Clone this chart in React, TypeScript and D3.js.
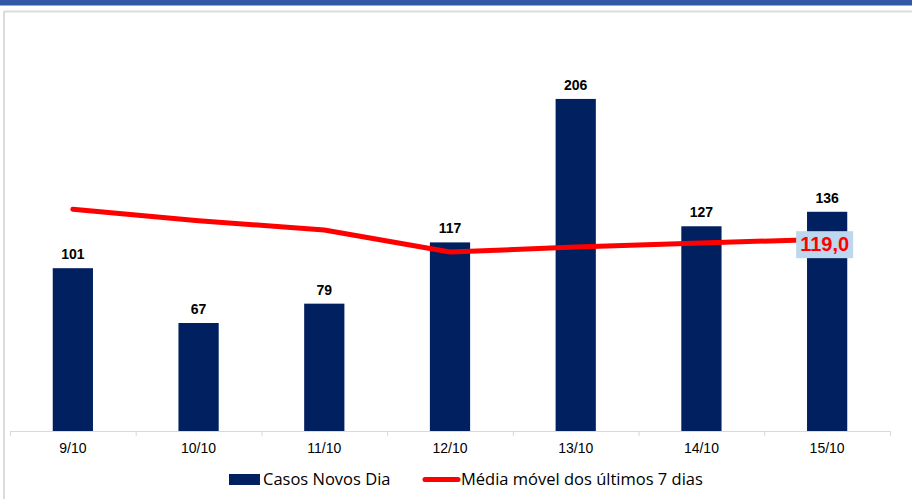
import React from "react";
import * as d3 from "d3";

const categories = ["9/10", "10/10", "11/10", "12/10", "13/10", "14/10", "15/10"];
const casosNovos = [101, 67, 79, 117, 206, 127, 136];
const mediaMovel = [137.6, 130.4, 124.7, 111.0, 114.1, 116.6, 119.0];
const seriesNames = ["Casos Novos Dia", "Média móvel dos últimos 7 dias"];
const lastLabel = "119,0";

export default function App() {
  const W = 912, H = 499;
  const x0 = 10, x1 = 890, baseY = 431;
  const x = d3.scaleBand<string>().domain(categories).range([x0, x1]).paddingInner(0.68).paddingOuter(0.34);
  const xc = (c: string) => (x(c) as number) + x.bandwidth() / 2;
  const y = d3.scaleLinear().domain([0, 250]).range([baseY, baseY - 250 * 1.612]);
  const step = (x1 - x0) / categories.length;
  const line = d3.line<number>().x((_, i) => xc(categories[i])).y((d) => y(d));
  const lastX = xc(categories[categories.length - 1]);
  const lastY = y(mediaMovel[mediaMovel.length - 1]);
  const font = "'Liberation Sans', Arial, sans-serif";
  return (
    <svg width={W} height={H} style={{ position: "absolute", left: 0, top: 0, display: "block" }}>
      <rect x={0} y={0} width={W} height={H} fill="#fff" />
      <rect x={0} y={0} width={W} height={5.5} fill="#3159A5" />
      <line x1={4} y1={11.5} x2={W} y2={11.5} stroke="#DCDCDC" strokeWidth={2} />
      <line x1={4} y1={11} x2={4} y2={H} stroke="#DCDCDC" strokeWidth={2} />
      {categories.map((c, i) => (
        <rect key={c} x={x(c)} y={y(casosNovos[i])} width={x.bandwidth()} height={baseY - y(casosNovos[i])} fill="#002060" />
      ))}
      <line x1={x0} y1={baseY + 0.5} x2={x1} y2={baseY + 0.5} stroke="#D9D9D9" strokeWidth={1} />
      {d3.range(categories.length + 1).map((i) => (
        <line key={i} x1={x0 + i * step + 0.5} y1={baseY} x2={x0 + i * step + 0.5} y2={baseY + 5} stroke="#D9D9D9" />
      ))}
      {categories.map((c) => (
        <text key={c} x={xc(c)} y={baseY + 22} textAnchor="middle" fontFamily={font} fontSize={14} fill="#000">{c}</text>
      ))}
      {categories.map((c, i) => (
        <text key={c} x={xc(c)} y={y(casosNovos[i]) - 9} textAnchor="middle" fontFamily={font} fontSize={14} fontWeight="bold" fill="#000">{casosNovos[i]}</text>
      ))}
      <path d={line(mediaMovel) || ""} fill="none" stroke="#FF0000" strokeWidth={5} strokeLinecap="round" strokeLinejoin="round" />
      <rect x={lastX - 31} y={lastY - 8} width={57} height={27} fill="#BDD7EE" />
      <text x={lastX - 2.5} y={lastY + 12} textAnchor="middle" fontFamily={font} fontSize={20} fontWeight="bold" fill="#FF0000">{lastLabel}</text>
      <rect x={229} y={474} width={31} height={11} fill="#002060" />
      <text x={263} y={485} fontFamily="'Open Sans', sans-serif" fontSize={16.5} fill="#000">{seriesNames[0]}</text>
      <line x1={425} y1={479.5} x2={458} y2={479.5} stroke="#FF0000" strokeWidth={5} strokeLinecap="round" />
      <text x={461} y={485} fontFamily="'Open Sans', sans-serif" fontSize={16.5} fill="#000">{seriesNames[1]}</text>
    </svg>
  );
}
